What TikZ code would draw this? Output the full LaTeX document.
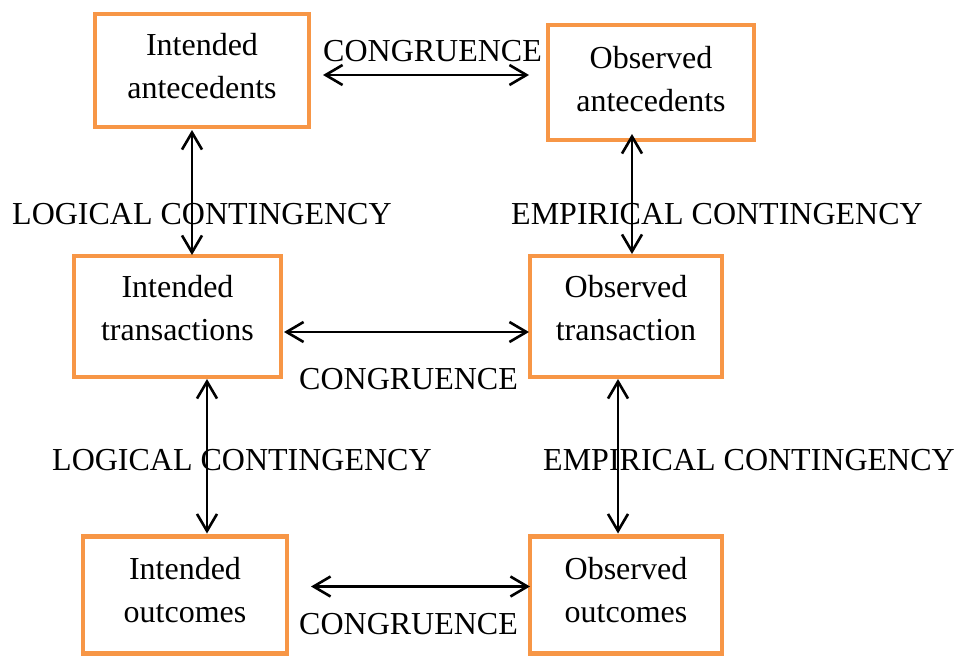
\documentclass[tikz,border=0pt]{standalone}
\usepackage{fontspec}
\setmainfont{Liberation Serif}
\usetikzlibrary{calc,arrows.meta}
\definecolor{boxorange}{RGB}{247,150,70}
\begin{document}
\begin{tikzpicture}[x=1pt,y=-1pt,
  box/.style={draw=boxorange,line width=4.5pt,rectangle,inner sep=0pt,outer sep=0pt},
  boxtext/.style={align=center,inner sep=0pt,font=\fontsize{32}{43}\selectfont},
  lbl/.style={anchor=base west,inner sep=0pt,font=\fontsize{32}{38}\selectfont},
  link/.style={line width=2.6pt,{Straight Barb[length=17pt,width=20pt]}-{Straight Barb[length=17pt,width=20pt]}}]
\useasboundingbox (0,0) rectangle (955,656);
% boxes
\node[box,minimum width=214pt,minimum height=113pt] (ia) at (202,70.5) {};
\node[box,minimum width=206pt,minimum height=115pt] (oa) at (651,82.5) {};
\node[box,minimum width=207pt,minimum height=121pt] (it) at (177.5,316.5) {};
\node[box,minimum width=192pt,minimum height=121pt] (ot) at (626,316.5) {};
\node[box,minimum width=204pt,minimum height=117pt] (io) at (185,595) {};
\node[box,minimum width=192pt,minimum height=117pt] (oo) at (626,595) {};
% box texts
\node[boxtext] (iaT) at (202,66.5) {Intended\\antecedents};
\node[boxtext] (oaT) at (651,79) {Observed\\antecedents};
\node[boxtext] (itT) at (177.5,308.5) {Intended\\transactions};
\node[boxtext] (otT) at (626,308.5) {Observed\\transaction};
\node[boxtext] (ioT) at (185,590) {Intended\\outcomes};
\node[boxtext] (ooT) at (626,590) {Observed\\outcomes};
% labels
\node[lbl] (c1) at (323,61) {CONGRUENCE};
\node[lbl] (l1) at (12,224) {LOGICAL CONTINGENCY};
\node[lbl] (e1) at (511,224) {EMPIRICAL CONTINGENCY};
\node[lbl] (c2) at (299,389) {CONGRUENCE};
\node[lbl] (l2) at (52,470) {LOGICAL CONTINGENCY};
\node[lbl] (e2) at (543,470) {EMPIRICAL CONTINGENCY};
\node[lbl] (c3) at (299,634) {CONGRUENCE};
% connectors
\draw[link] ($(ia.east)+(14,4.5)$) -- ($(oa.west)+(-19,-7.5)$);
\draw[link] ($(ia.south)+(-10,3)$) -- ($(it.north)+(14.5,-1)$);
\draw[link] ($(oa.south)+(-19,-6)$) -- ($(ot.north)+(6,-2)$);
\draw[link] ($(it.east)+(3,15.5)$) -- ($(ot.west)+(-1,15.5)$);
\draw[link] ($(it.south)+(29.5,2)$) -- ($(io.north)+(22,-3)$);
\draw[link] ($(ot.south)+(-8,2)$) -- ($(oo.north)+(-8,-3)$);
\draw[link] ($(io.east)+(24,-8.5)$) -- ($(oo.west)+(0,-8.5)$);
\end{tikzpicture}
\end{document}
